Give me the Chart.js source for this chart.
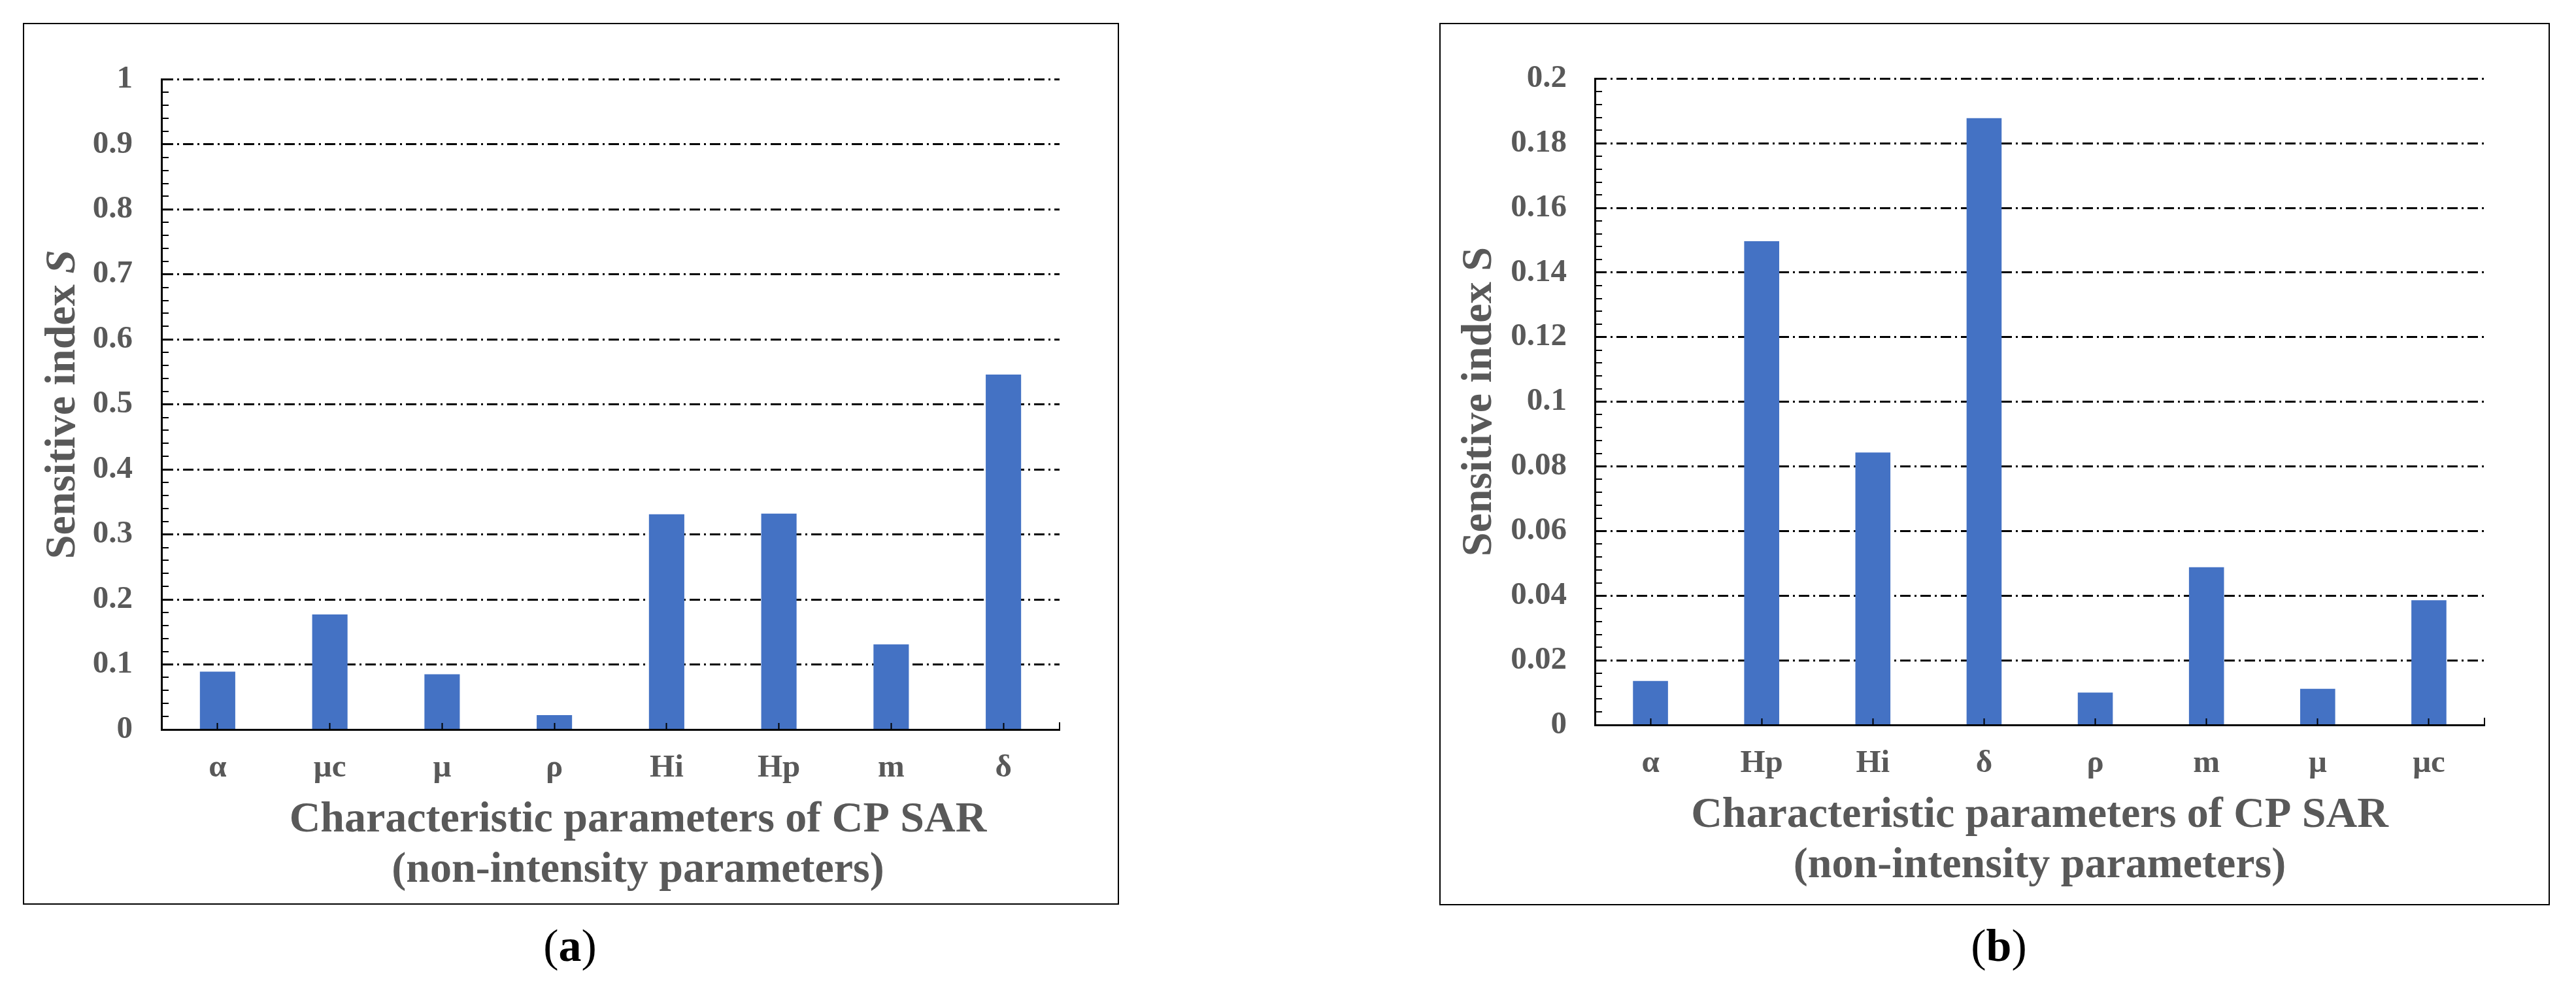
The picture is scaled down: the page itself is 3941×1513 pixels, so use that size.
<!DOCTYPE html>
<html>
<head>
<meta charset="utf-8">
<script src="https://cdn.jsdelivr.net/npm/chart.js@4.4.1/dist/chart.umd.min.js"></script>
<style>
html, body { margin: 0; padding: 0; background: #fff; }
body { width: 3941px; height: 1513px; position: relative; overflow: hidden; }
.panel { position: absolute; border: 2px solid #000; box-sizing: border-box; background: #fff; }
.panel canvas { display: block; }
.cap { position: absolute; transform: translate(-50%, -50%); font-family: "Liberation Serif", serif; font-size: 70px; line-height: 1; color: #000; }
</style>
</head>
<body>
<div class="panel" style="left:35px;top:35px;width:1677px;height:1349px"><canvas id="chartA" width="1673" height="1345"></canvas></div>
<div class="panel" style="left:2202px;top:35px;width:1699px;height:1350px"><canvas id="chartB" width="1695" height="1346"></canvas></div>
<div class="cap" style="left:872px;top:1447px">(<b>a</b>)</div>
<div class="cap" style="left:3058px;top:1447px">(<b>b</b>)</div>
<script>
const gray = '#595959';
const barBlue = '#4472C4';
const fontFamily = '"Liberation Serif", "Times New Roman", serif';

// panel (a)
const labelsA = ['α', 'μc', 'μ', 'ρ', 'Hi', 'Hp', 'm', 'δ'];
const valuesA = [0.089, 0.177, 0.085, 0.022, 0.331, 0.332, 0.131, 0.546];
// panel (b)
const labelsB = ['α', 'Hp', 'Hi', 'δ', 'ρ', 'm', 'μ', 'μc'];
const valuesB = [0.0136, 0.1497, 0.0843, 0.1878, 0.0100, 0.0488, 0.0112, 0.0386];

const xTitle = ['Characteristic parameters of CP SAR', '(non-intensity parameters)'];
const yTitleA = [{text: 'Sensitive index '}, {text: 'S', italic: true}];
const yTitleB = [{text: 'Sensitive index S'}];

// axis titles are drawn by hand so the italic S and the offset title work
const panelTitles = {
    id: 'panelTitles',
    afterDraw(chart, args, opts) {
        const {ctx, chartArea} = chart;
        ctx.save();
        ctx.fillStyle = gray;
        ctx.textAlign = 'center';
        ctx.textBaseline = 'alphabetic';
        ctx.font = 'bold 66px ' + fontFamily;
        const cx = (chartArea.left + chartArea.right) / 2 + opts.xShift;
        opts.xLines.forEach((line, i) => {
            ctx.fillText(line, cx, chartArea.bottom + 156 + i * 77);
        });

        ctx.translate(opts.yBase, (chartArea.top + chartArea.bottom) / 2);
        ctx.rotate(-Math.PI / 2);
        ctx.textAlign = 'left';
        const fonts = opts.yParts.map(p => (p.italic ? 'italic ' : '') + 'bold 66px ' + fontFamily);
        let total = 0;
        const widths = opts.yParts.map((p, i) => {
            ctx.font = fonts[i];
            const w = ctx.measureText(p.text).width;
            total += w;
            return w;
        });
        let x = -total / 2;
        opts.yParts.forEach((p, i) => {
            ctx.font = fonts[i];
            ctx.fillText(p.text, x, 0);
            x += widths[i];
        });
        ctx.restore();

        // closing tick at the right end of the category axis
        ctx.save();
        ctx.strokeStyle = '#000';
        ctx.lineWidth = 2;
        ctx.beginPath();
        ctx.moveTo(chartArea.right, chartArea.bottom);
        ctx.lineTo(chartArea.right, chartArea.bottom - 11);
        ctx.stroke();
        ctx.restore();
    }
};

function makeChart(id, labels, values, cfg) {
    const isMajor = v => Math.abs(v / cfg.major - Math.round(v / cfg.major)) < 1e-6;
    const tickFont = {family: fontFamily, weight: 'bold', size: 49};
    return new Chart(document.getElementById(id), {
        type: 'bar',
        data: {
            labels: labels,
            datasets: [{
                data: values,
                backgroundColor: barBlue,
                borderWidth: 0,
                barPercentage: 0.315,
                categoryPercentage: 1,
            }],
        },
        options: {
            responsive: false,
            animation: false,
            devicePixelRatio: 1,
            layout: {padding: cfg.padding},
            plugins: {
                legend: {display: false},
                tooltip: {enabled: false},
                panelTitles: {xLines: xTitle, xShift: cfg.xShift, yBase: 77, yParts: cfg.yParts},
            },
            scales: {
                x: {
                    grid: {display: true, drawOnChartArea: false, drawTicks: true, offset: false,
                        tickLength: -10, tickWidth: 2, tickColor: '#000', z: 1},
                    border: {display: true, color: '#000', width: 3, z: 1},
                    ticks: {color: gray, font: tickFont, padding: 40, maxRotation: 0, autoSkip: false},
                    afterFit: s => { s.height = cfg.xHeight; },
                },
                y: {
                    min: 0,
                    max: cfg.max,
                    grid: {
                        drawTicks: true,
                        tickLength: -11,
                        tickWidth: 2,
                        tickColor: '#000',
                        color: '#000',
                        lineWidth: ctx => (isMajor(ctx.tick.value) && ctx.tick.value > 0 ? 3 : 0),
                    },
                    border: {display: true, color: '#000', width: 3, dash: [16, 6, 3, 6]},
                    ticks: {
                        stepSize: cfg.step,
                        autoSkip: false,
                        color: gray,
                        font: tickFont,
                        padding: cfg.tickPad,
                        callback: v => (isMajor(v) ? String(parseFloat(v.toFixed(2))) : ''),
                    },
                    afterFit: s => { s.width = cfg.yWidth; },
                },
            },
        },
        plugins: [panelTitles],
    });
}

makeChart('chartA', labelsA, valuesA, {
    max: 1, step: 0.02, major: 0.1,
    padding: {left: 0, top: 68, right: 89, bottom: 0},
    yWidth: 210, xHeight: 266, tickPad: 55, xShift: 42, yParts: yTitleA,
});

makeChart('chartB', labelsB, valuesB, {
    max: 0.2, step: 0.004, major: 0.02,
    padding: {left: 0, top: 75, right: 98, bottom: 0},
    yWidth: 236, xHeight: 274, tickPad: 54, xShift: 0, yParts: yTitleB,
});
</script>
</body>
</html>
